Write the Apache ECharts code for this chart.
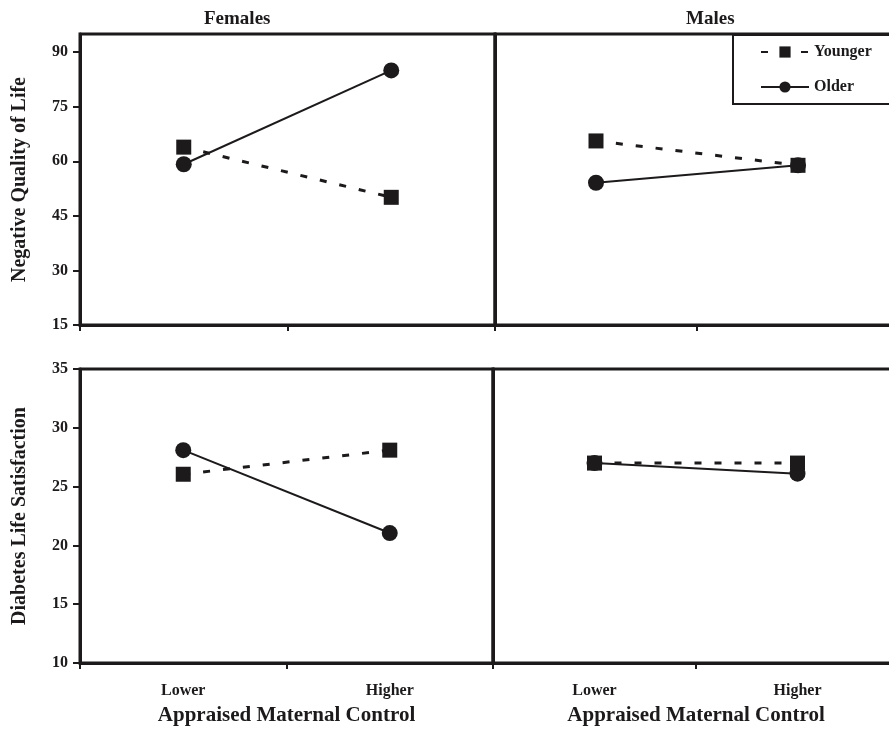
<!DOCTYPE html>
<html>
<head>
<meta charset="utf-8">
<script src="https://cdn.jsdelivr.net/npm/echarts@6/dist/echarts.min.js"></script>
<style>
html,body{margin:0;padding:0;background:#fff;}
#c{width:889px;height:732px;}
</style>
</head>
<body>
<div id="c"></div>
<script>
const categories = ['Lower', 'Higher'];
const panelTitles = ['Females', 'Males'];
const seriesNames = ['Younger', 'Older'];
const nqolFemaleYounger = [63.9, 50.1];
const nqolFemaleOlder = [59.2, 85.0];
const nqolMaleYounger = [65.6, 58.9];
const nqolMaleOlder = [54.1, 58.9];
const dlsFemaleYounger = [26.05, 28.1];
const dlsFemaleOlder = [28.1, 21.05];
const dlsMaleYounger = [27.0, 27.0];
const dlsMaleOlder = [27.0, 26.1];
const nqolTicks = [15, 30, 45, 60, 75, 90];
const dlsTicks = [10, 15, 20, 25, 30, 35];
const nqolName = 'Negative Quality of Life';
const dlsName = 'Diabetes Life Satisfaction';
const xName = 'Appraised Maternal Control';

const INK = '#1c1a1b';
const FONT = "'Liberation Serif', 'Times New Roman', serif";

const grids = [
  {left: 80, top: 34, width: 415, height: 291},
  {left: 495, top: 34, width: 404, height: 291},
  {left: 80, top: 369, width: 413, height: 294},
  {left: 493, top: 369, width: 406, height: 294}
].map(g => Object.assign(g, {show: true, borderColor: INK, borderWidth: 3, backgroundColor: 'transparent', containLabel: false, outerBoundsMode: 'none'}));

function xAxis(i, bottom) {
  return {
    type: 'category', gridIndex: i, data: categories, boundaryGap: true,
    axisLine: {show: true, lineStyle: {color: INK, width: 3}},
    axisTick: {show: true, inside: false, length: 6, alignWithLabel: false, lineStyle: {color: INK, width: 2}},
    axisLabel: {show: bottom, margin: 20, color: INK, fontFamily: FONT, fontWeight: 'bold', fontSize: 16},
    name: bottom ? xName : '', nameLocation: 'middle', nameGap: 42,
    nameTextStyle: {color: INK, fontFamily: FONT, fontWeight: 'bold', fontSize: 21},
    splitLine: {show: false}
  };
}
function yAxis(i, min, max, ticks, name, showLabels) {
  return {
    type: 'value', gridIndex: i, min: min, max: max, interval: 5,
    axisLine: {show: true, lineStyle: {color: INK, width: 3}},
    axisTick: {show: showLabels, length: 7, customValues: ticks, lineStyle: {color: INK, width: 2}},
    axisLabel: {show: showLabels, customValues: ticks, margin: 12, color: INK, fontFamily: FONT, fontWeight: 'bold', fontSize: 16},
    name: showLabels ? name : '', nameLocation: 'middle', nameGap: 50,
    nameTextStyle: {color: INK, fontFamily: FONT, fontWeight: 'bold', fontSize: 20},
    splitLine: {show: false}
  };
}

function olderSeries(i, data) {
  return {
    name: seriesNames[1], type: 'line', xAxisIndex: i, yAxisIndex: i, data: data,
    symbol: 'circle', symbolSize: 16, z: 2,
    lineStyle: {color: INK, width: 2, type: 'solid'},
    itemStyle: {color: INK}, animation: false
  };
}
function youngerSeries(i, data) {
  return {
    name: seriesNames[0], type: 'line', xAxisIndex: i, yAxisIndex: i, data: data,
    symbol: 'rect', symbolSize: 15, z: 3,
    lineStyle: {color: INK, width: 3, type: [7, 13]},
    itemStyle: {color: INK}, animation: false
  };
}

const chart = echarts.init(document.getElementById('c'), null, {renderer: 'canvas'});
chart.setOption({
  animation: false,
  backgroundColor: '#ffffff',
  grid: grids,
  xAxis: [xAxis(0, false), xAxis(1, false), xAxis(2, true), xAxis(3, true)],
  yAxis: [
    yAxis(0, 15, 95, nqolTicks, nqolName, true),
    yAxis(1, 15, 95, nqolTicks, nqolName, false),
    yAxis(2, 10, 35, dlsTicks, dlsName, true),
    yAxis(3, 10, 35, dlsTicks, dlsName, false)
  ],
  legend: {
    data: seriesNames, orient: 'vertical', left: 733, top: 35,
    padding: [9, 30, 9, 27], itemGap: 19, itemWidth: 48, itemHeight: 14,
    borderColor: INK, borderWidth: 2, backgroundColor: '#ffffff',
    textStyle: {color: INK, fontFamily: FONT, fontWeight: 'bold', fontSize: 16},
    selectedMode: false
  },
  graphic: [
    {type: 'text', left: 204, top: 10, style: {text: panelTitles[0], fill: INK, font: "bold 19px " + FONT}},
    {type: 'text', left: 686, top: 10, style: {text: panelTitles[1], fill: INK, font: "bold 19px " + FONT}}
  ],
  series: [
    olderSeries(0, nqolFemaleOlder), youngerSeries(0, nqolFemaleYounger),
    olderSeries(1, nqolMaleOlder), youngerSeries(1, nqolMaleYounger),
    olderSeries(2, dlsFemaleOlder), youngerSeries(2, dlsFemaleYounger),
    olderSeries(3, dlsMaleOlder), youngerSeries(3, dlsMaleYounger)
  ]
});
</script>
</body>
</html>
